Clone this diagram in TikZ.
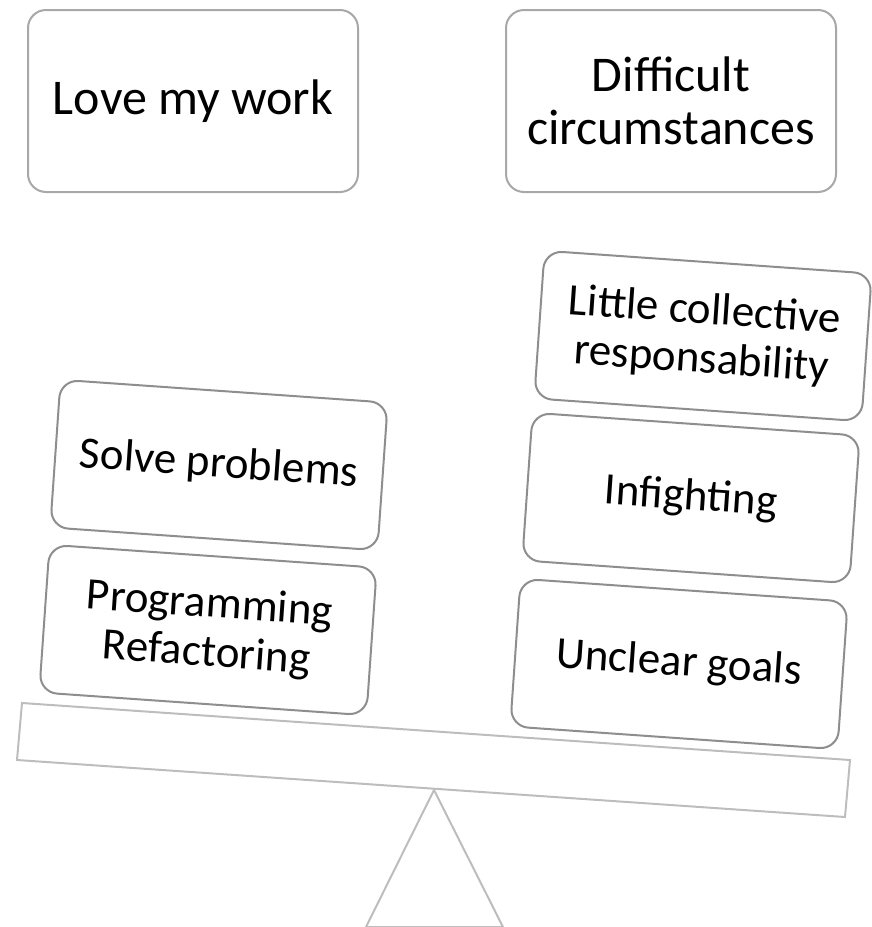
\documentclass[tikz,border=0pt]{standalone}
\usepackage{fontspec}
\setmainfont{Carlito}
\begin{document}
\begin{tikzpicture}[x=1pt,y=-1pt,
  card/.style={draw=cardgray, line width=2pt, rounded corners=18pt, fill=white,
    align=center, inner sep=0pt},
  headcard/.style={card, minimum width=330pt, minimum height=182pt,
    font=\fontsize{50}{53}\selectfont},
  weight/.style={card, draw=weightgray, minimum width=328pt, minimum height=148pt,
    rotate=-4, font=\fontsize{45}{49}\selectfont},
  beam/.style={draw=beamgray, line width=2pt, line join=miter}]
\definecolor{cardgray}{HTML}{A8A8A8}
\definecolor{weightgray}{HTML}{8E8E8E}
\definecolor{beamgray}{HTML}{BDBDBD}
\useasboundingbox (0,0) rectangle (871,927);

% headings
\node[headcard] (love) at (193,101) {Love my work};
\node[headcard] (hard) at (671,101) {Difficult\\circumstances};

% beam and pivot
\coordinate (pivot) at (434,790);
\coordinate (footL) at (366,927);
\coordinate (footR) at (503,927);
\draw[beam] (pivot) -- (footR) -- (footL) -- cycle;
\draw[beam] (22,703) -- (850,760) -- (845,817) -- (17,760) -- cycle;

% left pan
\node[weight] (prog) at (208,630) {Programming\\Refactoring};
\node[weight] (solve) at (219,465) {Solve problems};

% right pan
\node[weight] (goals) at (679,664) {Unclear goals};
\node[weight] (fight) at (691,498) {Infighting};
\node[weight] (resp) at (703,336) {Little collective\\responsability};
\end{tikzpicture}
\end{document}
